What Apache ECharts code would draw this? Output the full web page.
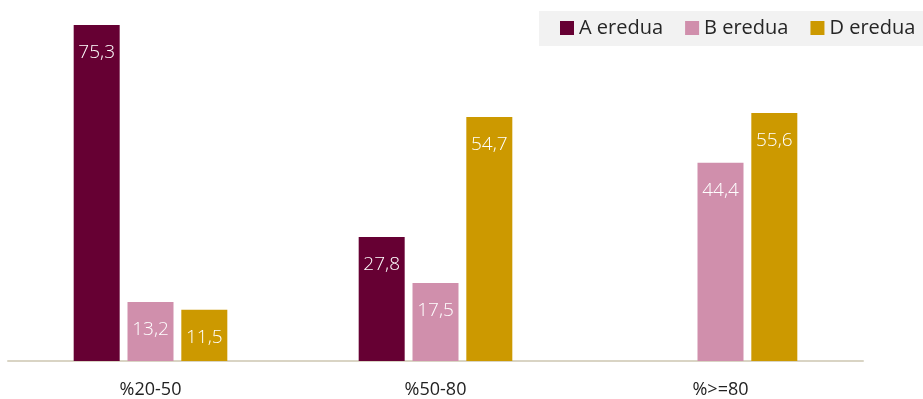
<!DOCTYPE html>
<html>
<head>
<meta charset="utf-8">
<script src="https://cdn.jsdelivr.net/npm/echarts@6/dist/echarts.min.js"></script>
<style>
  html, body { margin: 0; padding: 0; background: #fff; }
  #chart { width: 923px; height: 399px; }
</style>
</head>
<body>
<div id="chart"></div>
<script>
// Categories and per-series values
const categories = ['%20-50', '%50-80', '%>=80'];
const seriesNames = ['A eredua', 'B eredua', 'D eredua'];
const valuesA = [75.3, 27.8, null];
const valuesB = [13.2, 17.5, 44.4];
const valuesD = [11.5, 54.7, 55.6];

const colors = ['#660033', '#D08FAC', '#CC9900'];
const font = "'Open Sans', 'Noto Sans', sans-serif";

const chart = echarts.init(document.getElementById('chart'), null, { renderer: 'canvas' });

function makeSeries(name, data, color) {
  return {
    name: name,
    type: 'bar',
    data: data,
    barWidth: 46,
    barGap: '17%',
    itemStyle: { color: color },
    label: {
      show: true,
      position: 'insideTop',
      distance: 18,
      color: '#ffffff',
      fontFamily: font,
      fontWeight: 300,
      fontSize: 19,
      formatter: p => (p.value == null ? '' : String(p.value).replace('.', ','))
    },
    emphasis: { disabled: true }
  };
}

chart.setOption({
  animation: false,
  color: colors,
  textStyle: { fontFamily: font },
  legend: {
    left: 539,
    top: 11,
    width: 420,
    icon: 'rect',
    itemWidth: 14,
    itemHeight: 14,
    itemGap: 22,
    padding: [7, 12, 8, 21],
    backgroundColor: '#F2F2F2',
    textStyle: { color: '#262626', fontSize: 20, fontFamily: font },
    data: seriesNames
  },
  grid: { left: 8, right: 60, top: 4, bottom: 37, containLabel: false },
  xAxis: {
    type: 'category',
    data: categories,
    axisLine: { show: true, lineStyle: { color: '#D9D4C4', width: 2 } },
    axisTick: { show: false },
    axisLabel: { color: '#222', fontSize: 18, margin: 20, fontFamily: font }
  },
  yAxis: {
    type: 'value',
    min: 0,
    max: 80,
    show: false,
    splitLine: { show: false }
  },
  series: [
    makeSeries(seriesNames[0], valuesA, colors[0]),
    makeSeries(seriesNames[1], valuesB, colors[1]),
    makeSeries(seriesNames[2], valuesD, colors[2])
  ]
});
</script>
</body>
</html>
